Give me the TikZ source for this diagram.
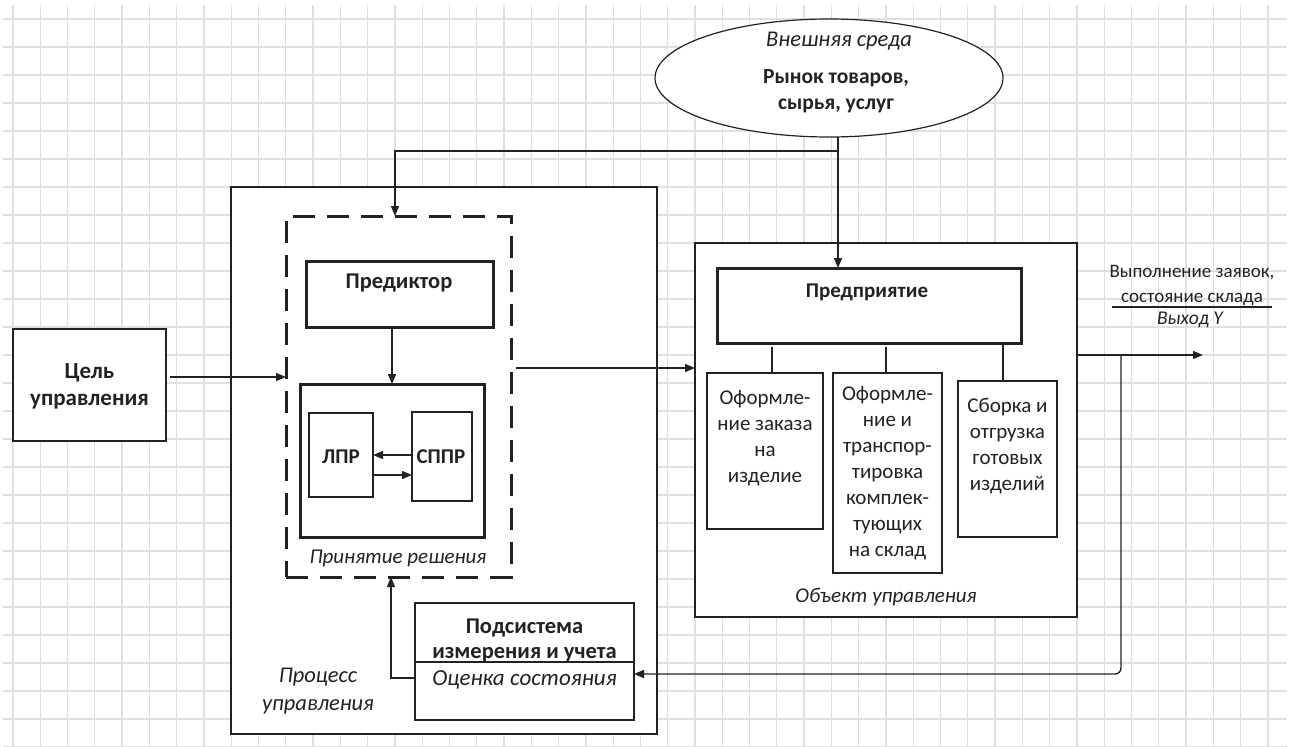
\documentclass[tikz,border=0pt]{standalone}
\usepackage{fontspec}
\setmainfont{Carlito}
\usetikzlibrary{arrows.meta,shapes.geometric,calc}
\definecolor{ink}{HTML}{222222}
\definecolor{gridc}{HTML}{E0E0E0}
\begin{document}
\begin{tikzpicture}[x=1pt,y=-1pt,
  every node/.style={inner sep=0pt, outer sep=0pt},
  thin box/.style={draw=ink, fill=white, line width=1.4pt},
  thick box/.style={draw=ink, fill=white, line width=3pt},
  dash box/.style={draw=ink, line width=3pt, dash pattern=on 22pt off 12pt},
  ln/.style={draw=ink, line width=1.4pt},
  arr/.style={ln, -{Triangle[length=10pt,width=8pt]}},
  txt/.style={font=\fontsize{21}{26}\selectfont, align=center, text=ink},
  txtb/.style={font=\fontsize{21.5}{26}\selectfont\bfseries, align=center, text=ink},
  txti/.style={font=\fontsize{21.5}{26}\selectfont\itshape, align=center, text=ink},
  txts/.style={font=\fontsize{19}{25}\selectfont, align=center, text=ink}
]
\useasboundingbox (0,0) rectangle (1294,747);
\fill[white] (0,0) rectangle (1294,747);
% grid
\foreach \k in {0,...,46}{
  \draw[gridc, line width=1.3pt] ({13+27.28*\k},5) -- ({13+27.28*\k},747);
}
\foreach \k in {0,...,26}{
  \draw[gridc, line width=1.3pt] (3,{19+28*\k}) -- (1287,{19+28*\k});
}

% outer boxes
\node[thin box, minimum width=426pt, minimum height=547pt] (proc) at (444,460.5) {};
\node[thin box, minimum width=382pt, minimum height=374pt] (obj) at (886,430) {};
\node[thin box, minimum width=153pt, minimum height=112pt] (cel) at (89.5,385) {};
\node[draw=ink, fill=white, line width=1.2pt, ellipse, minimum width=348pt, minimum height=118pt] (ell) at (829,78) {};

% decision area
\node[dash box, minimum width=225pt, minimum height=361pt] (dash) at (398.5,396.5) {};
\node[thick box, minimum width=187pt, minimum height=66pt] (pred) at (399.5,294) {};
\node[thick box, minimum width=184pt, minimum height=153pt] (inner) at (392,460.5) {};
\node[thin box, line width=1.2pt, minimum width=64pt, minimum height=84pt] (lpr) at (341,455) {};
\node[thin box, line width=1.2pt, minimum width=60pt, minimum height=89pt] (sppr) at (442,456.5) {};

% object area
\node[thick box, minimum width=304pt, minimum height=75pt] (ent) at (869,305.5) {};
\node[thin box, minimum width=116pt, minimum height=156pt] (s1) at (765,451) {};
\node[thin box, minimum width=109pt, minimum height=200pt] (s2) at (887.5,473) {};
\node[thin box, minimum width=99pt, minimum height=156pt] (s3) at (1007.5,459) {};

% measurement subsystem
\node[thin box, minimum width=219pt, minimum height=117pt] (sub) at (524.5,661.5) {};
\draw[ln] ([yshift=-0.5pt]sub.west) -- ([yshift=-0.5pt]sub.east);

% texts
\node[txti, font=\fontsize{22.5}{26}\selectfont\itshape] (t-env) at (839,41) {Внешняя среда};
\node[txtb] (t-mkt) at (836,91) {Рынок товаров,\\сырья, услуг};
\node[txtb, font=\fontsize{23}{27.5}\selectfont\bfseries] (t-cel) at (89.5,386.5) {Цель\\управления};
\node[txtb, font=\fontsize{22.5}{26}\selectfont\bfseries] (t-pred) at (399,283) {Предиктор};
\node[txtb, font=\fontsize{21}{26}\selectfont\bfseries] (t-lpr) at (341,457) {ЛПР};
\node[txtb, font=\fontsize{21}{26}\selectfont\bfseries] (t-sppr) at (441,457) {СППР};
\node[txti, font=\fontsize{21}{26}\selectfont\itshape] (t-dec) at (398,558) {Принятие решения};
\node[txtb, font=\fontsize{21}{26}\selectfont\bfseries] (t-ent) at (867,292) {Предприятие};
\node[txt] (t-s1) at (765,438.5) {Оформле-\\ние заказа\\на\\изделие};
\node[txt] (t-s2) at (887.5,473) {Оформле-\\ние и\\транспор-\\тировка\\комплек-\\тующих\\на склад};
\node[txt] (t-s3) at (1007.5,446) {Сборка и\\отгрузка\\готовых\\изделий};
\node[txti, font=\fontsize{21}{26}\selectfont\itshape] (t-obj) at (886,597) {Объект управления};
\node[txtb, font=\fontsize{22.5}{25}\selectfont\bfseries] (t-sub) at (524.5,640.5) {Подсистема\\измерения и учета};
\node[txti, font=\fontsize{23}{26}\selectfont\itshape] (t-est) at (524.5,680) {Оценка состояния};
\node[txti, font=\fontsize{22.5}{28}\selectfont\itshape] (t-proc) at (318,691) {Процесс\\управления};
\node[txts] (t-out) at (1192,285.5) {Выполнение заявок,\\состояние склада};
\node[txts, font=\fontsize{19.5}{25}\selectfont\itshape] (t-y) at (1190,320) {Выход Y};
\coordinate (barL) at (1112,307);
\coordinate (barR) at (1272,307);
\draw[ln, line width=1.2pt] (barL) -- (barR);

% connectors
\coordinate (j1) at (838,151);
\coordinate (j2) at (395,151);
\draw[arr] (ell.south -| j1) -- (j1) -- (j1 |- ent.north);
\draw[arr] (j1) -- (j2) -- (j2 |- dash.north);
\draw[arr] ([yshift=8pt,xshift=4pt]cel.east) -- ([yshift=8pt]cel.east -| dash.west);
\draw[arr] (pred.south -| inner.north) -- (inner.north);
\draw[arr] ([yshift=1.5pt]sppr.west) -- ([yshift=1.5pt]sppr.west -| lpr.east);
\draw[arr] ([yshift=-20pt]lpr.east) -- ([yshift=-20pt]lpr.east -| sppr.west);
\draw[arr] ([xshift=5pt,yshift=28.5pt]dash.east) -- ([yshift=28.5pt]dash.east -| obj.west);
\draw[ln] ([xshift=7pt]s1.north) -- ([xshift=7pt,yshift=-4pt]s1.north |- ent.south);
\draw[ln] ([xshift=-1.5pt]s2.north) -- ([xshift=-1.5pt,yshift=-4pt]s2.north |- ent.south);
\draw[ln] ([xshift=-4.5pt]s3.north) -- ([xshift=-4.5pt]s3.north |- ent.south);
\coordinate (out) at (1203,355);
\coordinate (br) at (1121,355);
\draw[arr] ([yshift=75pt]obj.east) -- (out);
\draw[arr, rounded corners=6pt] (br) |- ([yshift=-12.5pt]sub.east);
\draw[arr] ([yshift=-16.5pt]sub.west) -| ([xshift=-7.5pt]dash.south);
\end{tikzpicture}
\end{document}
